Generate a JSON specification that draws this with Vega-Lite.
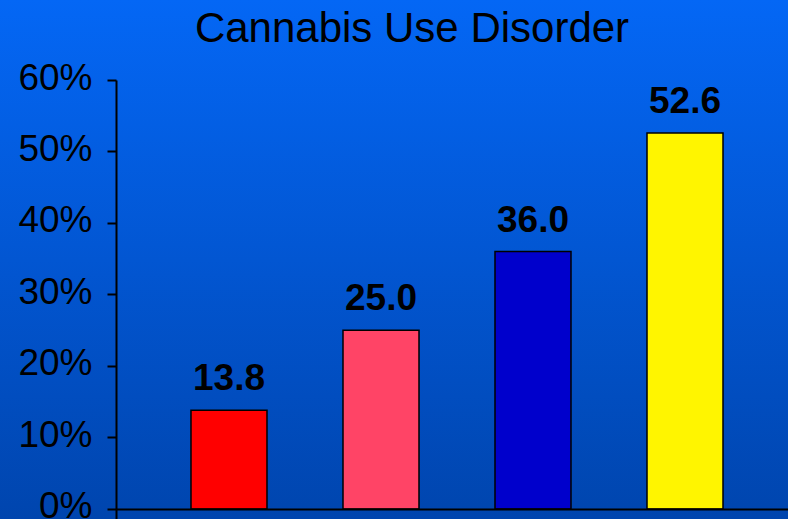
{
  "$schema": "https://vega.github.io/schema/vega-lite/v6.json",
  "width": 788,
  "height": 519,
  "autosize": {"type": "none"},
  "padding": 0,
  "background": "#0458DC",
  "config": {"view": {"stroke": null}},
  "title": {
    "text": "Cannabis Use Disorder",
    "font": "Liberation Sans",
    "fontSize": 42,
    "fontWeight": "normal",
    "color": "black",
    "anchor": "middle",
    "frame": "group",
    "orient": "top",
    "baseline": "alphabetic",
    "offset": -84,
    "dx": 18,
    "zindex": 2
  },
  "layer": [
    {
      "data": {"values": [{}]},
      "mark": {
        "type": "rect",
        "color": {
          "gradient": "linear",
          "x1": 0, "y1": 0, "x2": 0, "y2": 1,
          "stops": [
            {"offset": 0, "color": "#0467F5"},
            {"offset": 0.5, "color": "#0256D2"},
            {"offset": 1, "color": "#0045AE"}
          ]
        }
      },
      "encoding": {}
    },
    {
      "data": {
        "values": [
          {"group": "Group 1", "pct": 13.8},
          {"group": "Group 2", "pct": 25.0},
          {"group": "Group 3", "pct": 36.0},
          {"group": "Group 4", "pct": 52.6}
        ]
      },
      "encoding": {
        "x": {
          "field": "group",
          "type": "nominal",
          "sort": null,
          "scale": {"range": [116, 788], "paddingInner": 0.5, "paddingOuter": 0.4605, "align": 0.5357},
          "axis": {"title": null, "labels": false, "ticks": false, "domain": true, "domainColor": "black", "domainWidth": 2, "offset": -10, "grid": false, "zindex": 2}
        },
        "y": {
          "field": "pct",
          "type": "quantitative",
          "scale": {"domain": [-1.4, 60], "range": [519, 80], "nice": false, "zero": false},
          "axis": {
            "title": null,
            "values": [0, 10, 20, 30, 40, 50, 60],
            "labelExpr": "datum.value + '%'",
            "labelFont": "Liberation Sans",
            "labelFontSize": 37,
            "labelColor": "black",
            "labelPadding": 15,
            "labelOffset": -2,
            "labelFlush": false,
            "labelOverlap": false,
            "labelBound": false,
            "tickSize": 9,
            "tickWidth": 2,
            "tickColor": "black",
            "domainColor": "black",
            "domainWidth": 2,
            "grid": false,
            "offset": -116,
            "zindex": 2
          }
        }
      },
      "layer": [
        {
          "mark": {"type": "bar", "stroke": "black", "strokeWidth": 1.5},
          "encoding": {
            "y2": {"datum": 0},
            "color": {
              "field": "group",
              "type": "nominal",
              "scale": {"domain": ["Group 1", "Group 2", "Group 3", "Group 4"], "range": ["#FF0000", "#FF4466", "#0000CC", "#FFF500"]},
              "legend": null
            }
          }
        },
        {
          "mark": {"type": "text", "font": "Liberation Sans", "fontSize": 37, "fontWeight": "bold", "color": "black", "baseline": "alphabetic", "dy": -20},
          "encoding": {
            "text": {"field": "pct", "type": "quantitative", "format": ".1f"}
          }
        }
      ]
    }
  ]
}
